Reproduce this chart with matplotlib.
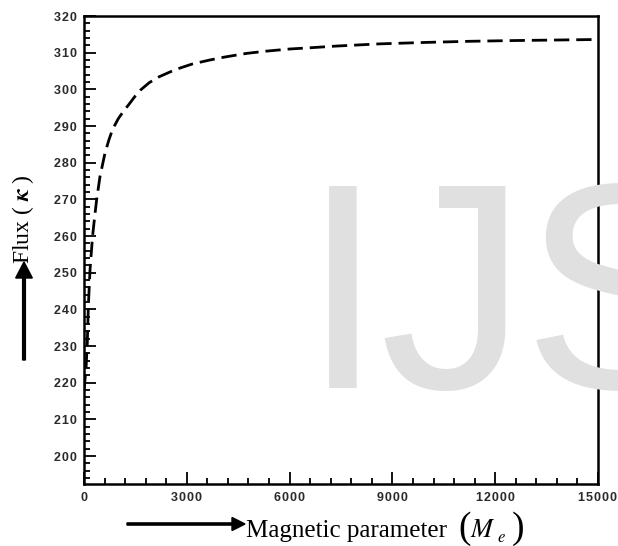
import matplotlib
matplotlib.use("Agg")
from matplotlib import pyplot as plt
from matplotlib.ticker import MultipleLocator, FuncFormatter

# magnetic parameter vs flux
magnetic = [0, 60, 96, 126, 175, 250, 320, 370, 466, 612, 726, 830, 1000, 1150,
            1311, 1480, 1648, 1900, 2185, 2670, 3155, 3670, 4100, 4740, 5300,
            6000, 6700, 7360, 8620, 9980, 11240, 12500, 13770, 15000]
flux = [218, 224, 230.8, 240.7, 250.7, 260, 266, 270, 276.2, 282.6, 286.2, 289.0,
        292.0, 294.0, 295.9, 298.0, 299.8, 301.8, 303.4, 305.4, 306.9, 308.0,
        308.8, 309.8, 310.4, 311.0, 311.4, 311.8, 312.4, 312.8, 313.1, 313.3,
        313.45, 313.6]

x_ticks = [0, 3000, 6000, 9000, 12000, 15000]
y_ticks = [200, 210, 220, 230, 240, 250, 260, 270, 280, 290, 300, 310, 320]

plt.rcParams["lines.scale_dashes"] = False
plt.rcParams["mathtext.fontset"] = "stix"

fig = plt.figure(figsize=(6.18, 5.46), dpi=100)


def fx(px):
    return px / 618


def fy(py):
    return 1 - py / 546


# grey watermark behind everything
wm = dict(fontsize=212, color="#e0e0e0", family="Liberation Sans", va="baseline", zorder=0)
fig.text(fx(302), fy(388), "I", **wm)
fig.text(fx(379), fy(388), "J", **wm)
fig.text(fx(523), fy(388), "S", **wm)

ax = fig.add_axes([fx(84), fy(484), 514 / 618, 468 / 546])
ax.patch.set_alpha(0)

ax.plot(magnetic, flux, color="black", lw=2.0, dashes=(11, 5))

ax.set_xlim(0, 15000)
ax.set_ylim(192.4, 320)
ax.set_xticks(x_ticks)
ax.set_yticks(y_ticks)
ax.xaxis.set_minor_locator(MultipleLocator(600))
ax.yaxis.set_minor_locator(MultipleLocator(2))


def spaced(v, pos):
    return "\u200a".join(str(int(v)))


ax.xaxis.set_major_formatter(FuncFormatter(spaced))
ax.yaxis.set_major_formatter(FuncFormatter(spaced))

for s in ax.spines.values():
    s.set_linewidth(1.8)

ax.tick_params(which="both", direction="in", top=False, right=False, width=1.3)
ax.tick_params(which="major", length=8.5)
ax.tick_params(which="minor", length=4.3)
ax.tick_params(axis="x", pad=6)
ax.tick_params(axis="y", pad=5)
for lab in ax.get_xticklabels() + ax.get_yticklabels():
    lab.set_family(["Liberation Sans", "DejaVu Sans"])
    lab.set_fontweight("bold")
    lab.set_fontsize(9)
    lab.set_color("#2a2a2a")

# x label, built in pieces so the brackets can be tall
serif = ["Liberation Serif", "DejaVu Serif"]
fig.text(fx(246), fy(537), "Magnetic parameter", family=serif, fontsize=18,
         ha="left", va="baseline")
fig.text(fx(458), fy(538), "(", family=serif, fontsize=27, ha="left", va="baseline")
fig.text(fx(470), fy(537), r"$M$", fontsize=19, ha="left", va="baseline")
fig.text(fx(497), fy(542), r"$e$", fontsize=12, ha="left", va="baseline")
fig.text(fx(512), fy(538), ")", family=serif, fontsize=27, ha="left", va="baseline")

# y label
fig.text(fx(29), fy(264), r"Flux ( $\boldsymbol{\kappa}$ )", family=serif, fontsize=17,
         rotation=90, rotation_mode="anchor", ha="left", va="baseline")

fig.patches.append(matplotlib.patches.FancyArrow(
    fx(127), fy(524), 118 / 618, 0, width=0.004, head_width=0.024,
    head_length=13 / 618, length_includes_head=True, color="black",
    transform=fig.transFigure, figure=fig))
fig.patches.append(matplotlib.patches.FancyArrow(
    fx(24), fy(360), 0, 98 / 546, width=0.0045, head_width=0.027,
    head_length=16 / 546, length_includes_head=True, color="black",
    transform=fig.transFigure, figure=fig))

fig.savefig("out.png", dpi=100)
